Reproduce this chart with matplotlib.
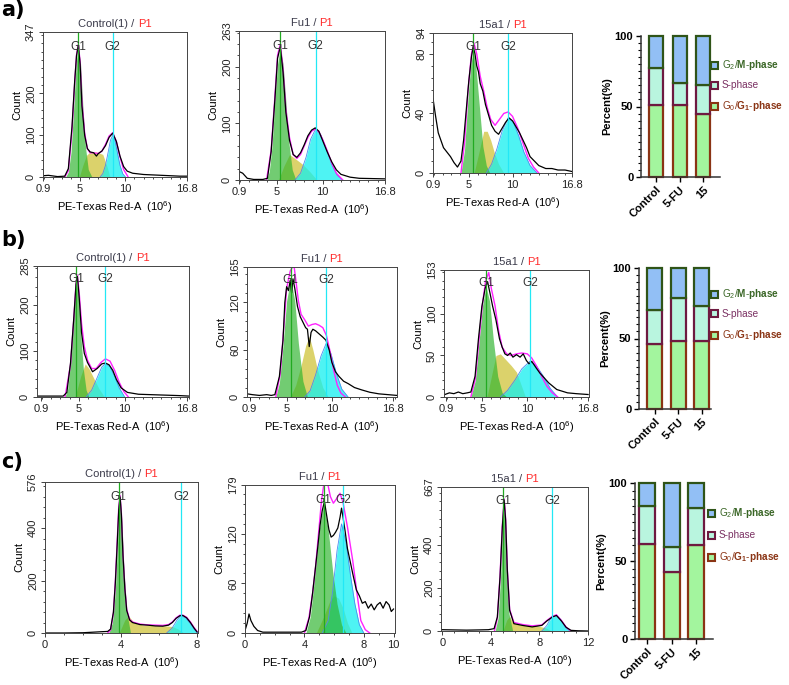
import numpy as np
import matplotlib
matplotlib.use('Agg')
import matplotlib.pyplot as plt
from matplotlib.patches import Rectangle
from matplotlib.ticker import MultipleLocator
from matplotlib.offsetbox import TextArea, HPacker, AnchoredOffsetbox

plt.rcParams['font.family'] = ['Liberation Sans', 'DejaVu Sans']
plt.rcParams['mathtext.fontset'] = 'custom'
plt.rcParams['mathtext.rm'] = 'Liberation Sans'
plt.rcParams['mathtext.bf'] = 'Liberation Sans:bold'
plt.rcParams['mathtext.it'] = 'Liberation Sans:italic'

# ---------------- data ----------------
# row a
a1_hist_x = [0.9, 1.5, 2.5, 3.3, 3.7, 4.1, 4.4, 4.6, 4.8, 5.0, 5.2, 5.5, 5.8, 6.1, 6.5, 6.8, 7.0, 7.4, 7.8, 8.2, 8.6, 9.0, 9.4, 9.8, 10.2, 10.8, 12.0, 14.0, 16.0, 16.8]
a1_hist_y = [3, 4, 1, 2, 20, 120, 230, 290, 315, 270, 170, 100, 68, 60, 58, 50, 56, 62, 75, 95, 105, 85, 50, 25, 14, 9, 6, 4, 2, 2]
a1_fit_x = [3.3, 3.7, 4.1, 4.4, 4.6, 4.8, 5.0, 5.2, 5.5, 5.8, 6.1, 6.5, 7.0, 7.4, 7.8, 8.2, 8.6, 9.0, 9.4, 9.8, 10.3]
a1_fit_y = [0, 15, 110, 225, 292, 318, 275, 180, 105, 68, 58, 58, 56, 62, 78, 98, 106, 85, 48, 18, 0]
a1_g1_x = [3.4, 3.7, 4.0, 4.3, 4.55, 4.8, 5.05, 5.3, 5.6, 5.9, 6.3]
a1_g1_y = [0, 12, 60, 170, 270, 312, 270, 170, 70, 18, 0]
a1_s_x = [4.9, 5.3, 5.7, 6.0, 6.8, 7.5, 7.9, 8.3]
a1_s_y = [0, 28, 52, 58, 60, 54, 30, 0]
a1_g2_x = [7.2, 7.5, 7.8, 8.1, 8.35, 8.6, 8.85, 9.1, 9.4, 9.7, 10.0]
a1_g2_y = [0, 8, 28, 60, 88, 100, 88, 60, 28, 8, 0]

a2_hist_x = [0.9, 1.3, 1.8, 2.5, 3.5, 4.0, 4.4, 4.8, 5.1, 5.4, 5.7, 6.0, 6.4, 6.8, 7.2, 7.6, 8.0, 8.4, 8.8, 9.2, 9.6, 10.0, 10.5, 11.0, 11.5, 12.0, 13.0, 14.0, 16.8]
a2_hist_y = [15, 12, 3, 1, 1, 3, 50, 140, 215, 235, 190, 120, 70, 45, 40, 48, 62, 78, 88, 92, 86, 70, 50, 32, 18, 10, 5, 3, 2]
a2_fit_x = [3.9, 4.4, 4.8, 5.1, 5.4, 5.7, 6.0, 6.4, 6.8, 7.2, 7.6, 8.0, 8.4, 8.8, 9.2, 9.6, 10.0, 10.5, 11.0, 11.5, 12.2]
a2_fit_y = [0, 52, 145, 220, 240, 195, 125, 75, 45, 38, 45, 60, 75, 86, 90, 85, 72, 52, 30, 12, 0]
a2_g1_x = [3.9, 4.2, 4.5, 4.8, 5.1, 5.4, 5.7, 6.0, 6.3, 6.7, 7.1]
a2_g1_y = [0, 15, 60, 140, 205, 232, 205, 140, 70, 18, 0]
a2_s_x = [5.2, 5.8, 6.4, 7.0, 7.8, 8.6, 9.4]
a2_s_y = [0, 25, 45, 38, 28, 15, 0]
a2_g2_x = [7.0, 7.6, 8.2, 8.7, 9.24, 9.8, 10.4, 11.0, 11.6, 12.2]
a2_g2_y = [0, 12, 40, 72, 90, 80, 55, 28, 8, 0]

a3_hist_x = [0.9, 1.2, 1.5, 1.8, 2.1, 2.5, 2.9, 3.3, 3.7, 4.1, 4.4, 4.7, 5.0, 5.3, 5.5, 5.7, 5.9, 6.1, 6.3, 6.6, 6.9, 7.2, 7.6, 8.0, 8.4, 8.8, 9.2, 9.6, 10.0, 10.4, 10.8, 11.2, 11.6, 12.0, 12.5, 13.0, 13.8, 14.5, 15.2, 16.0, 16.8]
a3_hist_y = [50, 38, 27, 22, 17, 14, 11, 7, 4, 8, 22, 42, 62, 78, 85, 80, 72, 68, 60, 55, 46, 40, 32, 28, 26, 30, 34, 37, 35, 31, 27, 22, 17, 11, 8, 5, 3, 3, 2, 2, 1]
a3_fit_x = [4.1, 4.5, 4.9, 5.3, 5.6, 5.9, 6.3, 6.7, 7.1, 7.5, 8.0, 8.5, 9.0, 9.5, 10.0, 10.6, 11.2, 11.8, 12.4, 13.0]
a3_fit_y = [0, 20, 55, 80, 87, 80, 65, 55, 44, 36, 32, 36, 40, 41, 38, 30, 20, 10, 4, 0]
a3_g1_x = [4.1, 4.5, 4.9, 5.2, 5.5, 5.8, 6.2, 6.6, 7.0, 7.4]
a3_g1_y = [0, 15, 50, 72, 82, 72, 45, 18, 5, 0]
a3_s_x = [5.6, 6.2, 6.7, 7.1, 7.5, 7.9, 8.4, 9.0]
a3_s_y = [0, 15, 28, 28, 22, 14, 6, 0]
a3_g2_x = [7.0, 7.6, 8.2, 8.8, 9.5, 10.1, 10.7, 11.3, 12.0, 12.8]
a3_g2_y = [0, 6, 16, 28, 37, 34, 25, 14, 5, 0]

# row b
b1_hist_x = [0.5, 1.5, 2.5, 3.3, 3.7, 4.1, 4.45, 4.7, 4.85, 5.05, 5.3, 5.6, 5.95, 6.5, 7.0, 7.5, 7.9, 8.3, 8.7, 9.1, 9.6, 10.3, 11.5, 13.0, 14.5, 16.0, 17.0]
b1_hist_y = [2, 2, 2, 2, 10, 74, 170, 245, 262, 215, 140, 95, 75, 55, 62, 72, 74, 70, 58, 38, 20, 10, 6, 5, 4, 3, 2]
b1_fit_x = [3.5, 4.1, 4.45, 4.7, 4.85, 5.05, 5.3, 5.6, 5.95, 6.4, 6.9, 7.4, 7.9, 8.4, 8.9, 9.4, 9.9, 10.4]
b1_fit_y = [0, 70, 168, 248, 265, 225, 160, 110, 80, 62, 62, 75, 83, 78, 58, 32, 12, 0]
b1_g1_x = [3.5, 3.8, 4.1, 4.4, 4.7, 4.95, 5.2, 5.5, 5.8, 6.1]
b1_g1_y = [0, 18, 75, 170, 255, 225, 140, 60, 15, 0]
b1_s_x = [4.6, 5.2, 5.7, 6.1, 6.6, 7.2, 7.8]
b1_s_y = [0, 45, 72, 62, 42, 18, 0]
b1_g2_x = [5.8, 6.4, 7.0, 7.5, 7.9, 8.4, 8.9, 9.4, 10.0]
b1_g2_y = [0, 15, 42, 65, 73, 66, 45, 20, 0]

b2_hist_x = [0.65, 1.2, 2.0, 2.8, 3.3, 3.7, 4.2, 4.6, 4.8, 5.0, 5.2, 5.4, 5.55, 5.7, 5.9, 6.2, 6.5, 6.8, 7.1, 7.3, 7.5, 7.7, 7.9, 8.2, 8.6, 9.0, 9.35, 9.7, 10.0, 10.4, 10.8, 11.3, 11.8, 12.5, 13.3, 14.2, 15.2, 16.2, 17.2]
b2_hist_y = [4, 3, 2, 3, 2, 3, 26, 72, 120, 140, 135, 148, 132, 150, 138, 115, 102, 95, 88, 86, 64, 82, 86, 84, 80, 76, 72, 60, 44, 32, 26, 20, 17, 12, 9, 6, 4, 3, 2]
b2_fit_x = [3.8, 4.3, 4.7, 5.0, 5.4, 5.8, 6.0, 6.3, 6.6, 7.0, 7.4, 7.8, 8.2, 8.6, 9.0, 9.4, 9.8, 10.2, 10.6, 11.0, 11.5]
b2_fit_y = [0, 30, 90, 138, 160, 168, 150, 122, 105, 98, 90, 92, 93, 91, 88, 78, 58, 34, 15, 5, 0]
b2_g1_x = [3.8, 4.2, 4.6, 5.0, 5.45, 5.9, 6.3, 6.8, 7.3]
b2_g1_y = [0, 18, 65, 122, 150, 122, 68, 20, 0]
b2_s_x = [5.4, 6.0, 6.6, 7.1, 7.5, 7.9, 8.4, 9.0, 9.6]
b2_s_y = [0, 15, 40, 65, 77, 60, 35, 12, 0]
b2_g2_x = [7.0, 7.6, 8.2, 8.8, 9.37, 9.9, 10.5, 11.1, 11.8]
b2_g2_y = [0, 8, 28, 52, 68, 55, 30, 10, 0]

b3_hist_x = [0.8, 1.3, 1.8, 2.3, 2.8, 3.3, 3.7, 4.17, 4.55, 4.93, 5.3, 5.57, 5.84, 6.14, 6.5, 6.9, 7.2, 7.5, 7.8, 8.1, 8.4, 8.8, 9.2, 9.55, 9.9, 10.2, 10.5, 11.0, 11.4, 11.9, 12.4, 13.3, 14.5, 15.5, 16.8]
b3_hist_y = [3, 5, 4, 6, 4, 5, 6, 25, 70, 109, 131, 139, 125, 109, 93, 70, 60, 52, 50, 53, 48, 51, 48, 52, 44, 40, 43, 35, 29, 23, 17, 9, 5, 4, 3]
b3_fit_x = [3.7, 4.2, 4.6, 5.0, 5.35, 5.7, 6.0, 6.4, 6.8, 7.2, 7.7, 8.2, 8.8, 9.4, 10.0, 10.5, 11.0, 11.6, 12.2, 12.8, 13.4]
b3_fit_y = [0, 22, 68, 112, 140, 150, 130, 110, 80, 60, 52, 50, 52, 53, 52, 47, 38, 25, 13, 5, 0]
b3_g1_x = [3.7, 4.2, 4.6, 5.0, 5.4, 5.8, 6.2, 6.7, 7.2, 7.7]
b3_g1_y = [0, 20, 65, 110, 133, 115, 70, 25, 5, 0]
b3_s_x = [5.5, 6.0, 6.5, 7.0, 7.6, 8.2, 8.8, 9.3, 9.8]
b3_s_y = [0, 25, 50, 52, 45, 38, 30, 15, 0]
b3_g2_x = [7.0, 7.8, 8.6, 9.4, 10.3, 11.0, 11.8, 12.6, 13.4]
b3_g2_y = [0, 8, 20, 34, 43, 38, 25, 10, 0]

# row c
c1_hist_x = [0, 1.0, 2.0, 2.5, 3.0, 3.3, 3.45, 3.6, 3.7, 3.8, 3.88, 3.95, 4.02, 4.1, 4.2, 4.3, 4.45, 4.6, 5.0, 5.4, 5.8, 6.2, 6.5, 6.7, 6.9, 7.1, 7.25, 7.45, 7.65, 7.85, 8.0]
c1_hist_y = [0, 0, 1, 3, 5, 6, 15, 80, 190, 340, 470, 519, 450, 300, 170, 86, 50, 40, 32, 30, 27, 26, 30, 40, 56, 66, 67, 58, 40, 18, 4]
c1_fit_x = [3.3, 3.45, 3.6, 3.7, 3.8, 3.88, 3.95, 4.02, 4.1, 4.2, 4.3, 4.45, 4.6, 5.0, 5.4, 5.8, 6.2, 6.5, 6.7, 6.9, 7.1, 7.25, 7.45, 7.65, 7.85, 8.0]
c1_fit_y = [0, 12, 75, 195, 350, 480, 525, 455, 305, 175, 90, 52, 42, 34, 31, 30, 29, 32, 42, 58, 68, 68, 60, 42, 20, 6]
c1_g1_x = [3.35, 3.55, 3.7, 3.8, 3.9, 3.97, 4.05, 4.15, 4.3, 4.5]
c1_g1_y = [0, 40, 160, 320, 470, 510, 420, 250, 80, 0]
c1_s_x = [3.9, 4.2, 4.4, 4.7, 5.2, 5.8, 6.3, 6.7, 7.0, 7.3]
c1_s_y = [0, 50, 65, 38, 30, 28, 27, 25, 15, 0]
c1_g2_x = [6.4, 6.7, 6.95, 7.15, 7.4, 7.65, 7.9, 8.05]
c1_g2_y = [0, 20, 50, 66, 58, 36, 10, 0]

c2_hist_x = [0, 0.15, 0.27, 0.4, 0.6, 0.85, 1.2, 2.0, 3.0, 3.8, 4.1, 4.35, 4.55, 4.75, 4.9, 5.05, 5.2, 5.35, 5.5, 5.65, 5.8, 5.95, 6.1, 6.25, 6.4, 6.5, 6.6, 6.75, 6.9, 7.1, 7.3, 7.5, 7.7, 7.9, 8.1, 8.3, 8.5, 8.7, 8.9, 9.1, 9.3, 9.5, 9.7, 9.85, 10.0]
c2_hist_y = [3, 12, 23, 15, 8, 3, 1, 1, 1, 1, 3, 20, 48, 80, 104, 130, 148, 159, 142, 125, 116, 118, 122, 127, 140, 151, 140, 122, 102, 85, 68, 52, 45, 36, 38, 30, 35, 28, 34, 37, 30, 38, 34, 26, 29]
c2_fit_x = [4.0, 4.3, 4.55, 4.75, 4.95, 5.15, 5.35, 5.55, 5.75, 5.95, 6.15, 6.4, 6.6, 6.9, 7.25, 7.6, 7.8, 8.1, 8.4]
c2_fit_y = [0, 18, 48, 80, 120, 160, 185, 182, 165, 157, 162, 169, 158, 128, 88, 40, 15, 4, 0]
c2_g1_x = [4.1, 4.4, 4.7, 5.0, 5.3, 5.6, 5.9, 6.2, 6.5, 6.8]
c2_g1_y = [0, 20, 70, 125, 157, 125, 75, 35, 10, 0]
c2_s_x = [4.8, 5.3, 5.7, 6.0, 6.3, 6.6, 6.9, 7.2]
c2_s_y = [0, 20, 38, 45, 42, 30, 12, 0]
c2_g2_x = [5.2, 5.6, 5.9, 6.2, 6.5, 6.8, 7.1, 7.4, 7.7, 8.0]
c2_g2_y = [0, 15, 50, 100, 132, 110, 70, 35, 10, 0]

c3_hist_x = [0, 1, 2, 3, 3.8, 4.27, 4.54, 4.76, 4.95, 5.1, 5.22, 5.36, 5.55, 5.9, 6.6, 7.4, 8.2, 8.6, 9.07, 9.4, 9.82, 10.2, 10.6, 11.2, 12]
c3_hist_y = [6, 5, 4, 5, 6, 11, 65, 250, 482, 606, 514, 281, 96, 34, 26, 19, 26, 46, 65, 72, 46, 17, 3, 1, 0]
c3_fit_x = [4.3, 4.54, 4.76, 4.95, 5.1, 5.22, 5.36, 5.55, 5.9, 6.6, 7.4, 8.2, 8.6, 9.07, 9.4, 9.82, 10.2, 10.6]
c3_fit_y = [0, 60, 255, 490, 612, 520, 285, 100, 40, 30, 24, 28, 48, 68, 75, 48, 18, 0]
c3_g1_x = [4.35, 4.6, 4.8, 4.95, 5.05, 5.15, 5.3, 5.5, 5.8]
c3_g1_y = [0, 60, 250, 470, 600, 520, 300, 80, 0]
c3_s_x = [5.0, 5.3, 5.55, 5.8, 6.3, 7.0, 7.8, 8.5, 9.0]
c3_s_y = [0, 50, 68, 40, 30, 26, 24, 15, 0]
c3_g2_x = [8.2, 8.6, 8.9, 9.2, 9.45, 9.8, 10.1, 10.5]
c3_g2_y = [0, 25, 55, 68, 72, 50, 20, 0]

# cell cycle percentages (Control, 5-FU, 15)
groups = ['Control', '5-FU', '15']
a_g1 = [51, 51, 45]
a_s = [26, 16, 20]
a_g2 = [23, 33, 35]
b_g1 = [46, 48, 48]
b_s = [24, 31, 25]
b_g2 = [30, 21, 27]
c_g1 = [61, 43, 60]
c_s = [24, 16, 24]
c_g2 = [15, 41, 16]

# ---------------- styling ----------------
W, H = 789, 685
GREEN_FILL = '#2fb52f'
YELLOW_FILL = '#cfc43a'
CYAN_FILL = '#12f0f0'
FIT_COL = '#ff22ff'
G1_LINE = '#22aa22'
G2_LINE = '#22e8f5'

PH_FACE = {'g1': '#a3f59e', 's': '#b9f5df', 'g2': '#92bff5'}
PH_EDGE = {'g1': '#8a3414', 's': '#6e1a40', 'g2': '#2f5418'}
PH_TEXT = {'g1': '#8a3414', 's': '#7a3062', 'g2': '#3a6626'}

fig = plt.figure(figsize=(W / 100, H / 100), dpi=100)


def px_rect(l, t, r, b):
    return [l / W, 1 - b / H, (r - l) / W, (b - t) / H]


def draw_hist(box, name, xlim, ylim_top, yticks, xticks, ystep, g1_pos, g2_pos,
              hx, hy, fx, fy, g1x, g1y, sx, sy, g2x, g2y):
    ax = fig.add_axes(px_rect(*box))
    ax.fill_between(sx, sy, color=YELLOW_FILL, alpha=0.75, lw=0)
    ax.fill_between(g2x, g2y, color=CYAN_FILL, alpha=0.75, lw=0)
    ax.plot(g2x, g2y, color='#4a8cf0', lw=0.6)
    ax.fill_between(g1x, g1y, color=GREEN_FILL, alpha=0.68, lw=0)
    ax.plot(fx, fy, color=FIT_COL, lw=1.0)
    ax.plot(hx, hy, color='black', lw=0.9)
    ax.axvline(g1_pos, color=G1_LINE, lw=0.9)
    ax.axvline(g2_pos, color=G2_LINE, lw=0.9)
    ax.text(g1_pos, 0.9, 'G1', transform=ax.get_xaxis_transform(), ha='center',
            va='center', fontsize=8.5, color='#333333')
    ax.text(g2_pos, 0.9, 'G2', transform=ax.get_xaxis_transform(), ha='center',
            va='center', fontsize=8.5, color='#333333')
    ax.set_xlim(*xlim)
    ax.set_ylim(0, ylim_top)
    ax.set_xticks(xticks)
    ax.set_xticklabels([('%g' % v) for v in xticks], fontsize=8)
    ax.set_yticks(yticks)
    ax.set_yticklabels([str(v) for v in yticks], fontsize=8, rotation=90, va='center')
    ax.yaxis.set_minor_locator(MultipleLocator(ystep))
    ax.xaxis.set_minor_locator(MultipleLocator(1))
    ax.tick_params(which='major', length=3, width=0.6, pad=2, colors='#222222')
    ax.tick_params(which='minor', length=1.5, width=0.5)
    for sp in ax.spines.values():
        sp.set_linewidth(0.7)
        sp.set_color('#444444')
    ax.set_ylabel('Count', fontsize=8, labelpad=3)
    ax.set_xlabel(r'PE-Texas Red-A  (10$^{6}$)', fontsize=8, labelpad=4)
    t1 = TextArea(name + ' / ', textprops=dict(color='#3a3a4a', fontsize=8))
    t2 = TextArea('P1', textprops=dict(color='#ff2a2a', fontsize=8))
    pack = HPacker(children=[t1, t2], align='baseline', pad=0, sep=0)
    title = AnchoredOffsetbox(loc='lower center', child=pack, pad=0, borderpad=0,
                              frameon=False, bbox_to_anchor=(0.5, 1.02),
                              bbox_transform=ax.transAxes)
    ax.add_artist(title)
    return ax


def draw_bars(box, g1, s, g2, xlim, width, leg_x, leg_ys):
    ax = fig.add_axes(px_rect(*box))
    pos = np.arange(len(groups))
    g1 = np.array(g1)
    s = np.array(s)
    g2 = np.array(g2)
    kw = dict(width=width, linewidth=1.6, clip_on=False)
    ax.bar(pos, g1, color=PH_FACE['g1'], edgecolor=PH_EDGE['g1'], **kw)
    ax.bar(pos, s, bottom=g1, color=PH_FACE['s'], edgecolor=PH_EDGE['s'], **kw)
    ax.bar(pos, g2, bottom=g1 + s, color=PH_FACE['g2'], edgecolor=PH_EDGE['g2'], **kw)
    ax.set_xlim(*xlim)
    ax.set_ylim(0, 100)
    ax.set_yticks([0, 50, 100])
    ax.set_yticklabels(['0', '50', '100'], fontsize=8, fontweight='bold')
    ax.yaxis.set_minor_locator(MultipleLocator(5))
    ax.set_xticks(pos)
    ax.set_xticklabels(groups, rotation=45, ha='right', rotation_mode='anchor',
                       fontsize=8, fontweight='bold')
    ax.tick_params(which='major', length=3.5, width=1.0, pad=2)
    ax.tick_params(which='minor', length=2, width=0.8)
    ax.tick_params(axis='x', length=3.5, width=1.0)
    for side in ['top', 'right']:
        ax.spines[side].set_visible(False)
    for side in ['left', 'bottom']:
        ax.spines[side].set_linewidth(1.1)
        ax.spines[side].set_color('#333333')
    ax.set_ylabel('Percent(%)', fontsize=8, fontweight='bold', labelpad=2)

    labels = {'g2': r'G$_2$/$\mathbf{M}$-$\mathbf{phase}$',
              's': 'S-phase',
              'g1': r'G$_0$/$\mathbf{G_1}$-$\mathbf{phase}$'}
    for key, yy in zip(['g2', 's', 'g1'], leg_ys):
        sq = 7
        fig.patches.append(Rectangle(((leg_x - sq / 2) / W, 1 - (yy + sq / 2) / H),
                                     sq / W, sq / H, transform=fig.transFigure,
                                     facecolor=PH_FACE[key], edgecolor=PH_EDGE[key],
                                     linewidth=1.5))
        fig.text((leg_x + 8) / W, 1 - yy / H, labels[key], fontsize=7.2,
                 color=PH_TEXT[key], ha='left', va='center')
    return ax


# row a
draw_hist((43, 32, 187, 177), 'Control(1)', (0.9, 16.8), 347, [0, 100, 200, 347],
          [0.9, 5, 10, 16.8], 20, 4.8, 8.6, a1_hist_x, a1_hist_y, a1_fit_x, a1_fit_y,
          a1_g1_x, a1_g1_y, a1_s_x, a1_s_y, a1_g2_x, a1_g2_y)
draw_hist((239, 31, 385, 180), 'Fu1', (0.9, 16.8), 263, [0, 100, 200, 263],
          [0.9, 5, 10, 16.8], 20, 5.4, 9.24, a2_hist_x, a2_hist_y, a2_fit_x, a2_fit_y,
          a2_g1_x, a2_g1_y, a2_s_x, a2_s_y, a2_g2_x, a2_g2_y)
draw_hist((433, 33, 572, 173), '15a1', (0.9, 16.8), 94, [0, 40, 80, 94],
          [0.9, 5, 10, 16.8], 8, 5.5, 9.5, a3_hist_x, a3_hist_y, a3_fit_x, a3_fit_y,
          a3_g1_x, a3_g1_y, a3_s_x, a3_s_y, a3_g2_x, a3_g2_y)
draw_bars((641, 36, 720, 177), a_g1, a_s, a_g2, (-0.64, 2.72), 0.6, 714, [65, 85, 106])

# row b
draw_hist((37, 266, 189, 397), 'Control(1)', (0.45, 17.0), 285, [0, 100, 200, 285],
          [0.9, 5, 10, 16.8], 20, 4.7, 7.85, b1_hist_x, b1_hist_y, b1_fit_x, b1_fit_y,
          b1_g1_x, b1_g1_y, b1_s_x, b1_s_y, b1_g2_x, b1_g2_y)
draw_hist((247, 267, 397, 397), 'Fu1', (0.62, 17.2), 165, [0, 60, 120, 165],
          [0.9, 5, 10, 16.8], 12, 5.45, 9.37, b2_hist_x, b2_hist_y, b2_fit_x, b2_fit_y,
          b2_g1_x, b2_g1_y, b2_s_x, b2_s_y, b2_g2_x, b2_g2_y)
draw_hist((444, 270, 589, 397), '15a1', (0.7, 16.9), 153, [0, 50, 100, 153],
          [0.9, 5, 10, 16.8], 10, 5.4, 10.3, b3_hist_x, b3_hist_y, b3_fit_x, b3_fit_y,
          b3_g1_x, b3_g1_y, b3_s_x, b3_s_y, b3_g2_x, b3_g2_y)
draw_bars((639, 268, 711, 409), b_g1, b_s, b_g2, (-0.66, 2.4), 0.64, 714, [294, 314, 335])

# row c
draw_hist((45, 482, 198, 633), 'Control(1)', (0, 8.05), 576, [0, 200, 400, 576],
          [0, 4, 8], 40, 3.87, 7.15, c1_hist_x, c1_hist_y, c1_fit_x, c1_fit_y,
          c1_g1_x, c1_g1_y, c1_s_x, c1_s_y, c1_g2_x, c1_g2_y)
draw_hist((245, 485, 395, 633), 'Fu1', (0, 10.1), 179, [0, 60, 120, 179],
          [0, 4, 8, 10], 12, 5.3, 6.6, c2_hist_x, c2_hist_y, c2_fit_x, c2_fit_y,
          c2_g1_x, c2_g1_y, c2_s_x, c2_s_y, c2_g2_x, c2_g2_y)
draw_hist((441, 487, 588, 631), '15a1', (-0.1, 12), 667, [0, 200, 400, 667],
          [0, 4, 8, 12], 40, 5.02, 9.07, c3_hist_x, c3_hist_y, c3_fit_x, c3_fit_y,
          c3_g1_x, c3_g1_y, c3_s_x, c3_s_y, c3_g2_x, c3_g2_y)
draw_bars((635, 483, 713, 639), c_g1, c_s, c_g2, (-0.48, 2.67), 0.65, 711, [513, 535, 557])

# panel letters
for letter, ytop in [('a)', 0), ('b)', 230), ('c)', 452)]:
    fig.text(1 / W, 1 - ytop / H, letter, fontsize=15, fontweight='bold',
             family=['DejaVu Sans'], ha='left', va='top')

fig.savefig('out.png', dpi=100)
